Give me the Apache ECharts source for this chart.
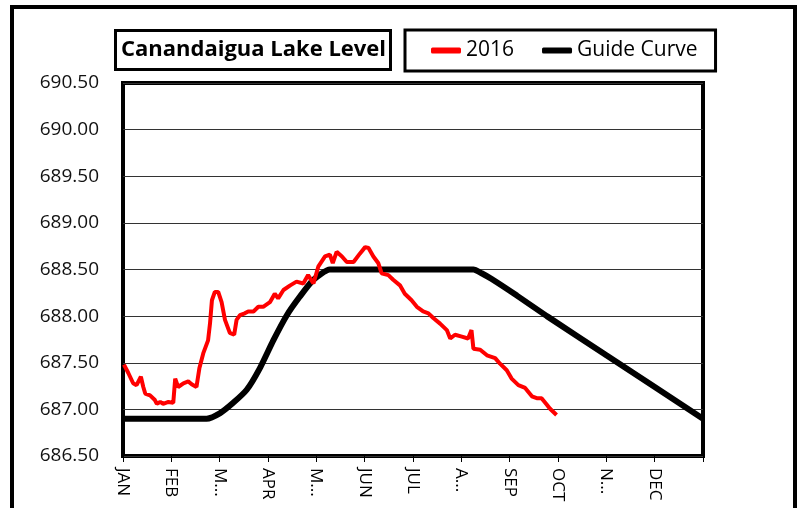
<!DOCTYPE html>
<html>
<head>
<meta charset="utf-8">
<script src="https://cdn.jsdelivr.net/npm/echarts@6/dist/echarts.min.js"></script>
<style>
  html, body { margin: 0; padding: 0; background: #fff; }
  #lakeChart { width: 801px; height: 508px; }
</style>
</head>
<body>
<div id="lakeChart"></div>
<script>
// month tick labels (as shown, truncated)
const monthLabels = ["JAN", "FEB", "M...", "APR", "M...", "JUN", "JUL", "A...", "SEP", "OCT", "N...", "DEC"];

// 2016 lake level, x in months from Jan 1
const lakeMonths = [0.02, 0.11, 0.21, 0.28, 0.37, 0.42, 0.46, 0.56, 0.66, 0.70, 0.77, 0.83, 0.94, 1.04, 1.08, 1.14,
  1.25, 1.35, 1.42, 1.52, 1.58, 1.66, 1.76, 1.80, 1.84, 1.90, 1.97, 2.04, 2.11, 2.21, 2.30, 2.35, 2.42, 2.52,
  2.59, 2.70, 2.80, 2.90, 3.04, 3.14, 3.21, 3.32, 3.46, 3.59, 3.73, 3.83, 3.94, 4.04, 4.18, 4.28, 4.34, 4.42,
  4.53, 4.63, 4.77, 4.90, 5.01, 5.08, 5.18, 5.28, 5.35, 5.49, 5.59, 5.73, 5.83, 5.97, 6.08, 6.21, 6.32, 6.42,
  6.56, 6.70, 6.77, 6.87, 7.01, 7.14, 7.21, 7.25, 7.39, 7.53, 7.70, 7.80, 7.94, 8.04, 8.18, 8.32, 8.46, 8.56,
  8.66, 8.77, 8.83, 8.97];
const lakeLevels = [687.48, 687.39, 687.28, 687.26, 687.35, 687.24, 687.17, 687.15, 687.10, 687.06, 687.08, 687.06,
  687.08, 687.07, 687.33, 687.24, 687.28, 687.30, 687.27, 687.24, 687.44, 687.60, 687.74, 687.92, 688.17, 688.26,
  688.26, 688.15, 687.96, 687.82, 687.80, 687.96, 688.01, 688.03, 688.05, 688.05, 688.10, 688.10, 688.15, 688.24,
  688.19, 688.28, 688.33, 688.37, 688.35, 688.44, 688.35, 688.53, 688.64, 688.66, 688.57, 688.69, 688.64, 688.58,
  688.58, 688.67, 688.74, 688.73, 688.64, 688.57, 688.46, 688.44, 688.39, 688.33, 688.24, 688.17, 688.10, 688.05,
  688.03, 687.98, 687.92, 687.85, 687.76, 687.80, 687.78, 687.76, 687.85, 687.65, 687.64, 687.58, 687.55, 687.49,
  687.42, 687.33, 687.26, 687.23, 687.14, 687.12, 687.12, 687.05, 687.01, 686.94];

// guide curve
const guideMonths = [0, 1.73, 2.01, 2.28, 2.56, 2.83, 3.11, 3.39, 3.66, 3.94, 4.28, 7.25, 7.42, 7.62, 8.15, 8.77, 10.0, 12];
const guideLevels = [686.9, 686.9, 686.96, 687.07, 687.21, 687.44, 687.74, 688.01, 688.21, 688.39, 688.5, 688.5,
  688.46, 688.40, 688.22, 688.0, 687.58, 686.9];

const chart = echarts.init(document.getElementById("lakeChart"));
const labelFont = '"Open Sans", sans-serif';

chart.setOption({
  animation: false,
  backgroundColor: "#fff",
  graphic: [
    {
      type: "rect",
      shape: { x: 12, y: 7, width: 783, height: 520 },
      style: { fill: "none", stroke: "#000", lineWidth: 4 },
      silent: true
    }
  ],
  title: {
    text: "Canandaigua Lake Level",
    left: 115,
    top: 30,
    padding: [9, 5, 9, 6],
    borderColor: "#000",
    borderWidth: 3,
    textStyle: { fontFamily: labelFont, fontWeight: "bold", fontSize: 22, color: "#000" }
  },
  legend: {
    left: 405,
    top: 30,
    padding: [10, 18, 10, 26],
    borderColor: "#000",
    borderWidth: 3,
    itemWidth: 30,
    itemHeight: 6,
    itemGap: 28,
    textStyle: { fontFamily: labelFont, fontSize: 21, color: "#000" },
    data: [
      { name: "2016", icon: "roundRect" },
      { name: "Guide Curve", icon: "roundRect" }
    ]
  },
  grid: {
    left: 123,
    right: 98,
    top: 83,
    bottom: 52,
    show: true,
    borderColor: "#000",
    borderWidth: 4
  },
  xAxis: {
    type: "value",
    min: 0,
    max: 12,
    interval: 1,
    axisLine: { show: false },
    axisTick: { show: true, length: 6, lineStyle: { color: "#000", width: 1 } },
    splitLine: { show: false },
    axisLabel: {
      rotate: -90,
      margin: 12,
      fontFamily: labelFont,
      fontSize: 17,
      color: "#000",
      formatter: v => monthLabels[v] || ""
    }
  },
  yAxis: {
    type: "value",
    min: 686.5,
    max: 690.5,
    interval: 0.5,
    axisLine: { show: false },
    axisTick: { show: false },
    splitLine: { lineStyle: { color: "#333", width: 1 } },
    axisLabel: {
      margin: 24,
      fontFamily: labelFont,
      fontSize: 19,
      color: "#111",
      formatter: v => v.toFixed(2)
    }
  },
  series: [
    {
      name: "2016",
      type: "line",
      showSymbol: false,
      z: 4,
      color: "#ff0000",
      lineStyle: { width: 4, color: "#ff0000" },
      data: lakeMonths.map((m, i) => [m, lakeLevels[i]])
    },
    {
      name: "Guide Curve",
      type: "line",
      showSymbol: false,
      smooth: 0.2,
      z: 3,
      color: "#000",
      lineStyle: { width: 6, color: "#000" },
      data: guideMonths.map((m, i) => [m, guideLevels[i]])
    }
  ]
});
</script>
</body>
</html>
